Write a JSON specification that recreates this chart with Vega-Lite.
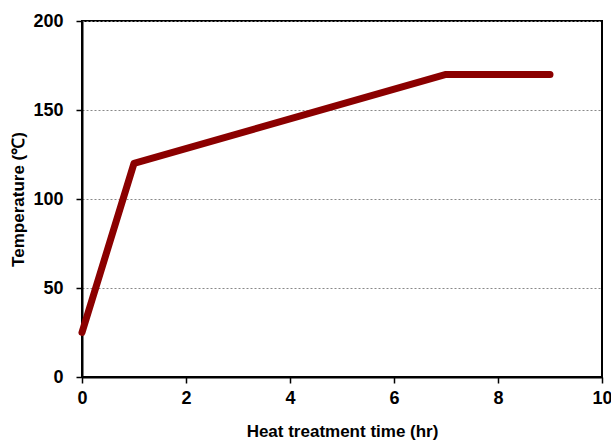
{
  "$schema": "https://vega.github.io/schema/vega-lite/v6.json",
  "width": 520,
  "height": 356,
  "autosize": {"type": "none"},
  "padding": {"left": 82, "top": 21, "right": 9, "bottom": 65},
  "background": "white",
  "config": {
    "view": {"stroke": "black", "strokeWidth": 2},
    "axis": {
      "labelFont": "Liberation Sans",
      "labelFontWeight": "bold",
      "labelFontSize": 18,
      "labelColor": "black",
      "labelFlush": false,
      "titleFont": "Liberation Sans",
      "titleFontWeight": "bold",
      "titleFontSize": 17,
      "titleColor": "black",
      "domainColor": "black",
      "domainWidth": 2,
      "tickColor": "black",
      "tickWidth": 1.5,
      "tickSize": 6
    }
  },
  "data": {
    "values": [
      {"time": 0, "temp": 25},
      {"time": 1, "temp": 120},
      {"time": 7, "temp": 170},
      {"time": 9, "temp": 170}
    ]
  },
  "mark": {"type": "line", "color": "#8B0000", "strokeWidth": 7, "strokeCap": "round", "strokeJoin": "round"},
  "encoding": {
    "x": {
      "field": "time",
      "type": "quantitative",
      "scale": {"domain": [0, 10], "nice": false},
      "axis": {
        "title": "Heat treatment time  (hr)",
        "values": [0, 2, 4, 6, 8, 10],
        "grid": false,
        "labelPadding": 6,
        "titlePadding": 16
      }
    },
    "y": {
      "field": "temp",
      "type": "quantitative",
      "scale": {"domain": [0, 200], "nice": false},
      "axis": {
        "title": "Temperature (℃)",
        "values": [0, 50, 100, 150, 200],
        "grid": true,
        "gridColor": "#888888",
        "gridDash": [2, 2],
        "gridWidth": 1,
        "labelPadding": 13,
        "titlePadding": 5
      }
    }
  }
}
